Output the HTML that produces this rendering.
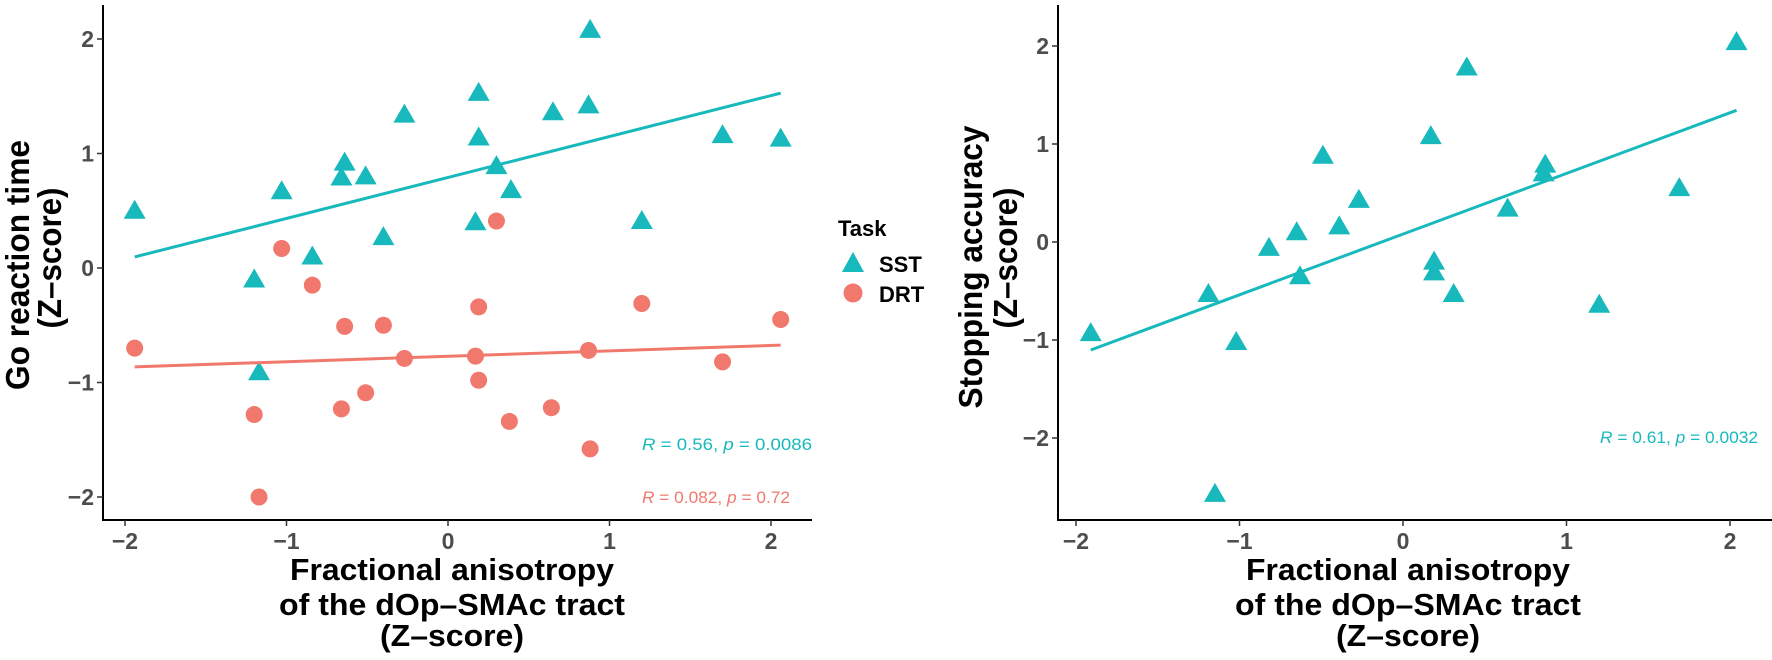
<!DOCTYPE html>
<html><head><meta charset="utf-8"><style>
html,body{margin:0;padding:0;background:#fff;}
svg{display:block;font-family:"Liberation Sans",Arial,sans-serif;}
</style></head><body>
<svg id="chart" width="1772" height="660" viewBox="0 0 1772 660" xmlns="http://www.w3.org/2000/svg">
<g id="left"></g>
<g id="right"></g>
<g id="legend">
  <text x="838" y="236" font-size="22" font-weight="bold">Task</text>
  <polygon points="853,252 864,272 842,272" fill="#17B9BC"/>
  <text x="879" y="272" font-size="22" font-weight="bold">SST</text>
  <circle cx="853" cy="293" r="9.5" fill="#F1786C"/>
  <text x="879" y="302" font-size="22" font-weight="bold">DRT</text>
</g>
</svg>
<script>
const TEAL = "#17B9BC", RED = "#F1786C";
const xTicks = [-2, -1, 0, 1, 2];
const yTicks = [-2, -1, 0, 1, 2];
const leftSstX = [-1.94,-1.03,-1.20,-0.84,-1.17,-0.64,-0.66,-0.51,-0.40,-0.27,0.19,0.19,0.17,0.30,0.39,0.65,0.87,0.88,1.20,1.70,2.06];
const leftSstY = [0.50,0.67,-0.10,0.10,-0.91,0.92,0.79,0.80,0.27,1.34,1.53,1.14,0.40,0.89,0.68,1.36,1.42,2.08,0.41,1.16,1.13];
const leftDrtX = [-1.94,-1.03,-0.84,-1.20,-1.17,-0.64,-0.66,-0.51,-0.40,-0.27,0.19,0.17,0.19,0.30,0.38,0.64,0.87,0.88,1.20,1.70,2.06];
const leftDrtY = [-0.70,0.17,-0.15,-1.28,-2.00,-0.51,-1.23,-1.09,-0.50,-0.79,-0.34,-0.77,-0.98,0.41,-1.34,-1.22,-0.72,-1.58,-0.31,-0.82,-0.45];
const rightSstX = [-1.91,-1.19,-1.15,-1.02,-0.82,-0.65,-0.63,-0.49,-0.39,-0.27,0.17,0.19,0.19,0.31,0.39,0.64,0.87,0.86,1.20,1.69,2.04];
const rightSstY = [-0.93,-0.53,-2.57,-1.02,-0.06,0.10,-0.35,0.88,0.16,0.43,1.08,-0.20,-0.31,-0.53,1.78,0.34,0.79,0.70,-0.64,0.55,2.04];
const statLeftSst = ["0.56", "0.0086"];
const statLeftDrt = ["0.082", "0.72"];
const statRight = ["0.61", "0.0032"];

const NS = "http://www.w3.org/2000/svg";
function mk(tag, attrs, parent){const e=document.createElementNS(NS,tag);for(const k in attrs)e.setAttribute(k,attrs[k]);parent.appendChild(e);return e;}

function fit(xs, ys){const n=xs.length;let mx=0,my=0;for(let i=0;i<n;i++){mx+=xs[i];my+=ys[i];}mx/=n;my/=n;let sxy=0,sxx=0;for(let i=0;i<n;i++){sxy+=(xs[i]-mx)*(ys[i]-my);sxx+=(xs[i]-mx)**2;}const b=sxy/sxx;return [my-b*mx,b];}

function panel(g, cfg){
  const sx = v => cfg.x0 + v*cfg.kx;
  const sy = v => cfg.y0 - v*cfg.ky;
  let e;
  e = mk('line',{x1:cfg.axL,y1:5,x2:cfg.axL,y2:520,stroke:'#000','stroke-width':2},g);
  
  
  e = mk('line',{x1:cfg.axL-1,y1:520,x2:cfg.axR,y2:520,stroke:'#000','stroke-width':2},g);
  
  
  xTicks.forEach(t=>{
    const x=sx(t);
    e=mk('line',{x1:x,y1:520,x2:x,y2:526,stroke:'#333','stroke-width':1.5},g);
    
    
    e=mk('text',{x:x,y:549,'font-size':23,'font-weight':'bold',fill:'#4d4d4d','text-anchor':'middle'},g);
    e.textContent = t<0 ? '\u2212'+Math.abs(t) : String(t);
    
    
  });
  yTicks.forEach(t=>{
    const y=sy(t);
    e=mk('line',{x1:cfg.axL-6,y1:y,x2:cfg.axL,y2:y,stroke:'#333','stroke-width':1.5},g);
    
    
    e=mk('text',{x:cfg.axL-9,y:y+8,'font-size':23,'font-weight':'bold',fill:'#4d4d4d','text-anchor':'end'},g);
    e.textContent = t<0 ? '\u2212'+Math.abs(t) : String(t);
    
    
  });
  const xt=[['Fractional anisotropy',324,580],['of the dOp\u2013SMAc tract',346,615],['(Z\u2013score)',144,646]];
  xt.forEach(s=>{
    e=mk('text',{x:cfg.titleX,y:s[2],'font-size':31,'font-weight':'bold',fill:'#000','text-anchor':'middle',textLength:s[1],lengthAdjust:'spacingAndGlyphs'},g);
    e.textContent=s[0];
    
    
  });
  cfg.ytitle.forEach(s=>{
    const tx=s[1];
    e=mk('text',{x:tx,y:s[3],'font-size':33,'font-weight':'bold',fill:'#000','text-anchor':'middle',textLength:s[2],lengthAdjust:'spacingAndGlyphs',transform:`rotate(-90 ${tx} ${s[3]})`},g);
    e.textContent=s[0];
    
    
  });
  cfg.series.forEach(sr=>{
    const [a,b]=fit(sr.x,sr.y);
    const xmin=Math.min(...sr.x), xmax=Math.max(...sr.x);
    e=mk('line',{x1:sx(xmin),y1:sy(a+b*xmin),x2:sx(xmax),y2:sy(a+b*xmax),stroke:sr.color,'stroke-width':3},g);
    
    
    sr.x.forEach((xv,i)=>{
      const px=sx(xv), py=sy(sr.y[i]);
      if(sr.shape==='tri'){
        e=mk('polygon',{points:`${px},${py-11} ${px+11},${py+8} ${px-11},${py+8}`,fill:sr.color},g);
      } else {
        e=mk('circle',{cx:px,cy:py,r:8.5,fill:sr.color},g);
      }
      
      
    });
    if(sr.stat){
      e=mk('text',{x:sr.stat[0],y:sr.stat[1],'font-size':17,fill:sr.color,textLength:sr.stat[2],lengthAdjust:'spacingAndGlyphs'},g);
      e.innerHTML='<tspan font-style="italic">R</tspan> = '+sr.stat[3][0]+', <tspan font-style="italic">p</tspan> = '+sr.stat[3][1];
      
      
    }
  });
}

panel(document.getElementById('left'),{x0:448,kx:161.5,y0:268,ky:114.5,axL:103,axR:812,titleX:452,
  ytitle:[['Go reaction time',29,250,265],['(Z\u2013score)',61,141,258]],
  series:[
    {name:'sst',x:leftSstX,y:leftSstY,color:TEAL,shape:'tri',stat:[642,450,170,statLeftSst]},
    {name:'drt',x:leftDrtX,y:leftDrtY,color:RED,shape:'circ',stat:[642,503,148,statLeftDrt]}
  ]});
panel(document.getElementById('right'),{x0:1403,kx:163.5,y0:242,ky:98,axL:1058,axR:1772,titleX:1408,
  ytitle:[['Stopping accuracy',982,283,267],['(Z\u2013score)',1017,141,258]],
  series:[
    {name:'sst',x:rightSstX,y:rightSstY,color:TEAL,shape:'tri',stat:[1600,443,158,statRight]}
  ]});
</script>
</body></html>
